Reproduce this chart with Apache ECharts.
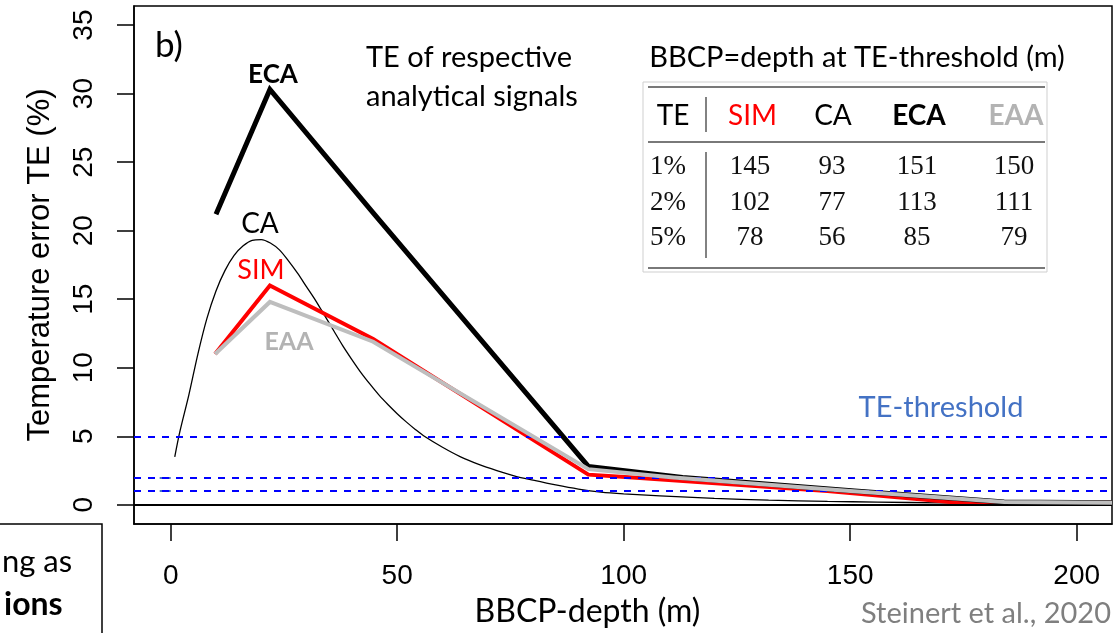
<!DOCTYPE html>
<html>
<head>
<meta charset="utf-8">
<script src="https://cdn.jsdelivr.net/npm/echarts@6/dist/echarts.min.js"></script>
<style>
html,body{margin:0;padding:0;background:#fff;}
#chart{width:1114px;height:633px;}
</style>
</head>
<body>
<div id="chart"></div>
<script>
// ---- data ----
const xTicks = [0, 50, 100, 150, 200];
const yTicks = [0, 5, 10, 15, 20, 25, 30, 35];
const thresholds = [5, 2, 1];

const caDepth = [0.9, 2, 4, 6, 8, 10, 12, 14, 16, 18, 20, 22, 24, 26, 28, 30, 32, 34, 36, 38, 40, 42, 44, 46, 48, 50, 52, 54, 56, 60, 64, 68, 72, 76, 80, 85, 90, 95, 100, 108, 120, 132, 145, 156, 170, 185, 207.8];
const caTE    = [3.5, 5.3, 8.0, 11.0, 13.6, 15.6, 17.1, 18.2, 18.9, 19.3, 19.35, 19.1, 18.6, 17.8, 16.9, 15.9, 14.9, 13.8, 12.7, 11.6, 10.6, 9.65, 8.8, 8.0, 7.3, 6.65, 6.05, 5.5, 5.0, 4.2, 3.5, 2.95, 2.5, 2.1, 1.8, 1.45, 1.15, 0.93, 0.8, 0.65, 0.47, 0.34, 0.25, 0.2, 0.14, 0.1, 0.06];

const simDepth = [9.8, 21.9, 44.7, 92.2, 102, 145, 174, 207.8];
const simTE    = [11.0, 16.0, 12.1, 2.2, 2.0, 1.0, 0.15, 0.15];

const ecaDepth = [10.0, 21.9, 44.7, 92.2, 113, 151, 184, 207.8];
const ecaTE    = [21.2, 30.3, 21.3, 2.8, 2.0, 1.0, 0.2, 0.15];

const eaaDepth = [9.8, 21.9, 44.7, 92.2, 111, 150, 184, 207.8];
const eaaTE    = [11.0, 14.8, 11.9, 2.6, 2.0, 1.0, 0.2, 0.15];

// table: BBCP = depth at TE-threshold (m)
const tableHead = ['TE', 'SIM', 'CA', 'ECA', 'EAA'];
const tableTE   = ['1%', '2%', '5%'];
const simBBCP   = [145, 102, 78];
const caBBCP    = [93, 77, 56];
const ecaBBCP   = [151, 113, 85];
const eaaBBCP   = [150, 111, 79];

// ---- build ----
const zip = (a, b) => a.map((v, i) => [v, b[i]]);
const CAL = 'Lato, "Open Sans", sans-serif';
const ARI = '"Liberation Sans", Arial, sans-serif';
const SER = '"Liberation Serif", "Times New Roman", serif';

const chart = echarts.init(document.getElementById('chart'), null, {renderer: 'canvas'});

// table graphics
const g = [];
const colX = [673, 752.5, 833, 919, 1016];
const headColor = ['#000', '#ff0000', '#000', '#000', '#b3b3b3'];
const headWeight = ['normal', 'normal', 'normal', 'bold', 'bold'];
g.push({type: 'rect', shape: {x: 643, y: 82, width: 404, height: 190}, style: {fill: '#fff', stroke: '#cfcfcf', lineWidth: 1}, z: 10});
[87, 142, 268].forEach(y => g.push({type: 'line', shape: {x1: 648, y1: y, x2: 1045, y2: y}, style: {stroke: '#4d4d4d', lineWidth: 1.6}, z: 11}));
g.push({type: 'line', shape: {x1: 706, y1: 97, x2: 706, y2: 132}, style: {stroke: '#4d4d4d', lineWidth: 1.4}, z: 11});
g.push({type: 'line', shape: {x1: 706, y1: 152, x2: 706, y2: 258}, style: {stroke: '#4d4d4d', lineWidth: 1.4}, z: 11});
tableHead.forEach((t, i) => g.push({type: 'text', z: 12, style: {text: t, x: colX[i], y: 116, align: 'center', verticalAlign: 'middle', font: headWeight[i] + ' 28px ' + CAL, fill: headColor[i]}}));
const rowY = [167, 203, 238];
const numX = [668, 750, 832, 917, 1014];
tableTE.forEach((t, r) => {
  const vals = [t, simBBCP[r], caBBCP[r], ecaBBCP[r], eaaBBCP[r]];
  vals.forEach((v, c) => g.push({type: 'text', z: 12, style: {text: String(v), x: numX[c], y: rowY[r], align: 'center', verticalAlign: 'middle', font: '27px ' + SER, fill: '#111'}}));
});
g.push({type: 'text', z: 12, style: {text: 'BBCP=depth at TE-threshold (m)', x: 857, y: 58, align: 'center', verticalAlign: 'middle', font: '29px ' + CAL, fill: '#000'}});

// annotations
const ann = [
  ['b)', 155, 46, 'left', 'normal 35px ' + CAL, '#000'],
  ['ECA', 273, 75, 'center', 'bold 26px ' + CAL, '#000'],
  ['CA', 260, 224, 'center', 'normal 28px ' + CAL, '#000'],
  ['SIM', 261, 270, 'center', 'normal 27px ' + CAL, '#ff0000'],
  ['EAA', 289, 342, 'center', 'bold 25px ' + CAL, '#b3b3b3'],
  ['TE-threshold', 941, 408, 'center', 'normal 29px ' + CAL, '#4472c4'],
  ['Steinert et al., 2020', 1111, 614, 'right', 'normal 29px ' + CAL, '#7f7f7f'],
  ['ng as', 2, 562, 'left', 'normal 31px ' + CAL, '#000'],
  ['ions', 4, 605, 'left', 'bold 32px ' + CAL, '#000']
];
ann.forEach(a => g.push({type: 'text', z: 12, style: {text: a[0], x: a[1], y: a[2], align: a[3], verticalAlign: 'middle', font: a[4], fill: a[5]}}));
g.push({type: 'text', z: 12, style: {text: 'TE of respective\nanalytical signals', x: 366, y: 77, align: 'left', verticalAlign: 'middle', font: 'normal 29px ' + CAL, lineHeight: 39, fill: '#000'}});
g.push({type: 'polyline', z: 12, shape: {points: [[0, 524], [102, 524], [102, 640]]}, style: {stroke: '#000', lineWidth: 1.5, fill: null}});

const option = {
  animation: false,
  backgroundColor: '#fff',
  grid: {left: 134, right: 2, top: 6, bottom: 107, show: true, borderColor: '#000', borderWidth: 1.5, backgroundColor: 'transparent'},
  xAxis: {
    type: 'value', min: -8.1, max: 207.8,
    splitLine: {show: false},
    axisLine: {show: true, onZero: false, lineStyle: {color: '#000', width: 1.5}},
    axisTick: {show: true, length: 17, customValues: xTicks, lineStyle: {color: '#000', width: 1.5}},
    axisLabel: {customValues: xTicks, fontSize: 28, fontFamily: ARI, color: '#000', margin: 38},
    name: 'BBCP-depth (m)', nameLocation: 'middle', nameGap: 72,
    nameTextStyle: {fontSize: 32, fontFamily: CAL, color: '#000', padding: [0, 71, 0, 0]}
  },
  yAxis: [{
    type: 'value', min: -1.4, max: 36.39,
    splitLine: {show: false},
    axisLine: {show: true, onZero: false, lineStyle: {color: '#000', width: 1.5}},
    axisTick: {show: true, length: 17, customValues: yTicks, lineStyle: {color: '#000', width: 1.5}},
    axisLabel: {customValues: yTicks, rotate: 90, fontSize: 28, fontFamily: ARI, color: '#000', margin: 36},
    name: 'Temperature error TE (%)', nameLocation: 'middle', nameRotate: 90, nameGap: 78,
    nameTextStyle: {fontSize: 31, fontFamily: ARI, color: '#000'}
  }, {
    type: 'value', min: -1.4, max: 36.39, position: 'left',
    splitLine: {show: false},
    axisLine: {show: false},
    axisTick: {show: true, length: 11, customValues: thresholds.filter(v => !yTicks.includes(v)), lineStyle: {color: '#4472c4', width: 2}},
    axisLabel: {show: false}
  }],
  graphic: g,
  series: [
    {
      name: 'CA', type: 'line', data: zip(caDepth, caTE), smooth: 0.3, showSymbol: false, symbol: 'none',
      lineStyle: {color: '#000', width: 1.3}, z: 2,
      markLine: {
        silent: true, symbol: ['none', 'none'], label: {show: false}, animation: false,
        data: thresholds.map(v => ({yAxis: v, lineStyle: {color: '#0000ff', width: 2, type: [7, 7]}}))
          .concat([{yAxis: 0, lineStyle: {color: '#000', width: 2, type: 'solid'}}])
      }
    },
    {name: 'SIM', type: 'line', data: zip(simDepth, simTE), showSymbol: false, symbol: 'none', lineStyle: {color: '#ff0000', width: 4, join: 'miter'}, z: 3},
    {name: 'ECA', type: 'line', data: zip(ecaDepth, ecaTE), showSymbol: false, symbol: 'none', lineStyle: {color: '#000', width: 5, join: 'miter'}, z: 4},
    {name: 'EAA', type: 'line', data: zip(eaaDepth, eaaTE), showSymbol: false, symbol: 'none', lineStyle: {color: '#bebebe', width: 4, join: 'miter'}, z: 5}
  ]
};
chart.setOption(option);
</script>
</body>
</html>
